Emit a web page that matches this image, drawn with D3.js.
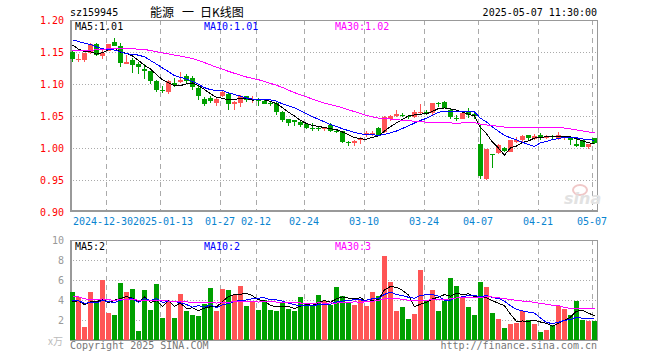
<!doctype html>
<html>
<head>
<meta charset="utf-8">
<title>能源 日K线图</title>
<script src="https://d3js.org/d3.v7.min.js"></script>
<style>
  body { margin: 0; background: #fff; }
  text { font-family: "DejaVu Sans Mono", monospace; font-size: 10px; }
</style>
</head>
<body>
<div id="chart"></div>
<script>

// data

const dates = [
  "2024-12-20","2024-12-23","2024-12-24","2024-12-25","2024-12-26","2024-12-27","2024-12-30","2024-12-31",
  "2025-01-02","2025-01-03","2025-01-06","2025-01-07","2025-01-08","2025-01-09","2025-01-10","2025-01-13",
  "2025-01-14","2025-01-15","2025-01-16","2025-01-17","2025-01-20","2025-01-21","2025-01-22","2025-01-23",
  "2025-01-24","2025-01-27","2025-02-05","2025-02-06","2025-02-07","2025-02-10","2025-02-11","2025-02-12",
  "2025-02-13","2025-02-14","2025-02-17","2025-02-18","2025-02-19","2025-02-20","2025-02-21","2025-02-24",
  "2025-02-25","2025-02-26","2025-02-27","2025-02-28","2025-03-03","2025-03-04","2025-03-05","2025-03-06",
  "2025-03-07","2025-03-10","2025-03-11","2025-03-12","2025-03-13","2025-03-14","2025-03-17","2025-03-18",
  "2025-03-19","2025-03-20","2025-03-21","2025-03-24","2025-03-25","2025-03-26","2025-03-27","2025-03-28",
  "2025-03-31","2025-04-01","2025-04-02","2025-04-03","2025-04-07","2025-04-08","2025-04-09","2025-04-10",
  "2025-04-11","2025-04-14","2025-04-15","2025-04-16","2025-04-17","2025-04-18","2025-04-21","2025-04-22",
  "2025-04-23","2025-04-24","2025-04-25","2025-04-28","2025-04-29","2025-04-30","2025-05-06","2025-05-07"
];

const open = [
  1.150,1.138,1.138,1.149,1.163,1.143,1.152,1.165,1.159,1.132,1.137,1.131,1.124,1.120,1.105,1.090,
  1.087,1.102,1.103,1.113,1.110,1.094,1.077,1.078,1.070,1.081,1.084,1.069,1.071,1.081,1.076,1.076,
  1.074,1.071,1.070,1.057,1.045,1.044,1.041,1.038,1.032,1.032,1.031,1.036,1.027,1.026,1.010,1.008,
  1.012,1.021,1.022,1.032,1.025,1.045,1.050,1.052,1.050,1.048,1.055,1.056,1.054,1.071,1.072,1.060,
  1.047,1.046,1.058,1.053,1.007,0.951,0.991,0.992,1.000,0.994,1.009,1.012,1.020,1.014,1.020,1.016,
  1.019,1.014,1.016,1.017,1.007,1.012,1.001,1.015
];
const high = [
  1.151,1.147,1.149,1.164,1.164,1.155,1.163,1.172,1.164,1.145,1.140,1.134,1.131,1.121,1.106,1.097,
  1.106,1.110,1.118,1.115,1.112,1.097,1.080,1.082,1.080,1.089,1.086,1.073,1.083,1.082,1.081,1.078,
  1.076,1.073,1.072,1.058,1.046,1.044,1.042,1.039,1.039,1.033,1.033,1.039,1.030,1.027,1.011,1.012,
  1.017,1.026,1.026,1.033,1.050,1.051,1.059,1.055,1.052,1.060,1.068,1.060,1.071,1.072,1.073,1.062,
  1.051,1.056,1.062,1.054,1.037,0.999,0.991,1.007,1.001,1.013,1.017,1.021,1.021,1.022,1.023,1.020,
  1.021,1.025,1.019,1.018,1.016,1.013,1.007,1.016
];
const low = [
  1.135,1.135,1.134,1.147,1.143,1.139,1.151,1.159,1.126,1.131,1.117,1.116,1.108,1.100,1.087,1.086,
  1.085,1.096,1.101,1.100,1.090,1.075,1.065,1.070,1.065,1.080,1.060,1.060,1.064,1.072,1.071,1.066,
  1.068,1.065,1.052,1.041,1.034,1.034,1.033,1.030,1.027,1.027,1.026,1.025,1.024,1.008,1.003,1.003,
  1.006,1.017,1.019,1.018,1.024,1.042,1.049,1.048,1.045,1.047,1.052,1.051,1.052,1.064,1.062,1.045,
  1.042,1.045,1.047,1.046,0.952,0.950,0.968,0.990,0.993,0.993,1.008,1.010,1.013,1.012,1.013,1.014,
  1.014,1.013,1.013,1.004,1.001,1.001,0.998,1.006
];
const close = [
  1.139,1.139,1.148,1.162,1.146,1.149,1.162,1.160,1.133,1.134,1.130,1.127,1.121,1.105,1.090,1.089,
  1.104,1.098,1.106,1.105,1.095,1.082,1.069,1.073,1.077,1.088,1.069,1.072,1.081,1.075,1.077,1.074,
  1.069,1.070,1.057,1.044,1.039,1.040,1.036,1.032,1.029,1.031,1.032,1.026,1.026,1.010,1.009,1.011,
  1.015,1.024,1.024,1.020,1.049,1.050,1.053,1.051,1.048,1.057,1.056,1.055,1.070,1.070,1.062,1.048,
  1.046,1.055,1.052,1.050,0.956,0.998,0.990,1.005,0.996,1.012,1.012,1.019,1.016,1.019,1.016,1.018,
  1.018,1.020,1.018,1.012,1.003,1.002,1.006,1.008
];
// closes before the first bar, estimated from where the MA lines start
const priorClose = [
  1.135,1.140,1.138,1.132,1.128,1.130,1.136,1.142,1.145,1.140,1.138,1.142,1.148,1.150,1.146,
  1.150,1.155,1.152,1.158,1.155,1.165,1.175,1.182,1.185,1.178,1.172,1.168,1.163,1.163
];

// volume, in 万
const volume = [
  4.83,4.33,1.33,4.8,3.83,6.0,2.73,2.5,5.73,4.8,5.1,0.9,5.0,3.0,5.6,2.23,3.83,2.23,4.6,2.9,
  2.5,2.4,3.6,5.2,2.9,5.1,5.0,4.5,5.4,3.4,3.8,3.0,4.0,3.0,2.9,3.8,3.1,2.9,4.3,3.6,
  3.4,4.5,3.9,3.5,5.3,4.4,3.83,3.5,4.1,3.4,4.8,4.4,8.4,5.8,2.9,3.3,2.1,2.6,7.0,3.9,
  5.0,2.9,3.9,6.2,5.4,4.3,3.3,2.5,5.8,5.3,2.7,2.1,1.2,1.6,1.7,2.9,2.0,1.6,0.8,1.0,
  1.5,3.4,3.1,2.5,3.9,2.0,1.9,1.9
];
const priorVolume = [
  7.2,6.8,7.0,4.5,3.8,5.2,4.0,3.6,4.8,4.2,3.9,5.0,4.4,3.7,4.1,4.6,3.9,4.3,4.0,4.0,
  4.2,3.6,4.5,3.8,3.75,3.9,3.2,3.5,3.72
];

const tickIdx = [6, 15, 25, 31, 39, 49, 59, 68, 78, 87];
const tickLabels = ["2024-12-30","2025-01-13","01-27","02-12","02-24","03-10","03-24","04-07","04-21","05-07"];
const priceTicks = [0.90, 0.95, 1.00, 1.05, 1.10, 1.15, 1.20];
const volTicks = [2, 4, 6, 8, 10];

// setup

const W = 660, H = 360;
const left = 70, right = 598;
const upColor = "#ff5555", downColor = "#00a000";
const maColors = {5: "#000", 10: "#0000ff", 30: "#ff00ff"};

const svg = d3.select("#chart").append("svg")
    .attr("width", W).attr("height", H)
    .attr("shape-rendering", "crispEdges");

const x = d3.scaleBand().domain(d3.range(dates.length))
    .range([left, right]).paddingInner(1/6).paddingOuter(1/12).align(0);
const y = d3.scaleLinear().domain([0.90, 1.20]).range([212, 20]);
const vy = d3.scaleLinear().domain([0, 10]).range([340, 240]);

function movingAvg(prior, vals, n) {
    const all = prior.concat(vals);
    return vals.map(function(v, i) {
        const end = prior.length + i + 1;
        return d3.mean(all.slice(end - n, end));
    });
}

const cx = function(i) { return Math.floor(x(i)) + 2.5; };

// grids and frames
function drawPanel(yScale, levels, top, bottom) {
    const g = svg.append("g");
    g.selectAll(".h").data(levels).enter().append("line")
        .attr("x1", left).attr("x2", right)
        .attr("y1", d => Math.round(yScale(d)) + 0.5).attr("y2", d => Math.round(yScale(d)) + 0.5)
        .attr("stroke", "#aaa").attr("stroke-dasharray", "1,2");
    g.selectAll(".v").data(tickIdx).enter().append("line")
        .attr("x1", d => x(d) + 0.5).attr("x2", d => x(d) + 0.5)
        .attr("y1", top).attr("y2", bottom)
        .attr("stroke", "#aaa").attr("stroke-dasharray", "5,4");
    g.append("rect").attr("x", left + 0.5).attr("y", top + 0.5)
        .attr("width", right - left - 1).attr("height", bottom - top - 1)
        .attr("fill", "none").attr("stroke", "#999");
    g.append("line").attr("x1", left + 1).attr("x2", left + 1).attr("y1", top).attr("y2", bottom + 1)
        .attr("stroke", "#999").attr("stroke-width", 2);
    g.append("line").attr("x1", left).attr("x2", right).attr("y1", bottom).attr("y2", bottom)
        .attr("stroke", "#999").attr("stroke-width", 2);
}
drawPanel(y, [0.95, 1.00, 1.05, 1.10, 1.15], 20, 211);
drawPanel(vy, [2, 4, 6, 8], 240, 340);

// candles
const candles = svg.append("g").selectAll("g").data(dates).enter().append("g");
candles.append("line")
    .attr("x1", (d, i) => cx(i)).attr("x2", (d, i) => cx(i))
    .attr("y1", (d, i) => y(high[i])).attr("y2", (d, i) => y(low[i]))
    .attr("stroke", (d, i) => close[i] >= open[i] ? upColor : downColor);
candles.append("rect")
    .attr("x", (d, i) => x(i)).attr("width", x.bandwidth())
    .attr("y", (d, i) => y(Math.max(open[i], close[i])))
    .attr("height", (d, i) => Math.max(1, Math.abs(y(open[i]) - y(close[i]))))
    .attr("fill", (d, i) => close[i] >= open[i] ? upColor : downColor);

// volume bars
svg.append("g").selectAll("rect").data(volume).enter().append("rect")
    .attr("x", (d, i) => x(i)).attr("width", x.bandwidth())
    .attr("y", d => vy(d)).attr("height", d => vy(0) - vy(d))
    .attr("fill", (d, i) => close[i] >= open[i] ? upColor : downColor);

// moving averages
const priceMA = {}, volMA = {};
[5, 10, 30].forEach(function(n) {
    priceMA[n] = movingAvg(priorClose, close, n);
    volMA[n] = movingAvg(priorVolume, volume, n);
    svg.append("path").datum(priceMA[n])
        .attr("d", d3.line().x((d, i) => cx(i)).y(d => y(d)))
        .attr("fill", "none").attr("stroke", maColors[n]);
    svg.append("path").datum(volMA[n])
        .attr("d", d3.line().x((d, i) => cx(i)).y(d => vy(d)))
        .attr("fill", "none").attr("stroke", maColors[n]);
});

// axes
const yAxis = svg.append("g").attr("transform", "translate(64,0)")
    .call(d3.axisLeft(y).tickValues(priceTicks).tickSize(0).tickPadding(0).tickFormat(d3.format(".2f")));
yAxis.select(".domain").remove();
yAxis.selectAll("text").attr("fill", "#f00").style("font-size", "10px").attr("font-family", "DejaVu Sans Mono");

const vAxis = svg.append("g").attr("transform", "translate(64,0)")
    .call(d3.axisLeft(vy).tickValues(volTicks).tickSize(0).tickPadding(0));
vAxis.select(".domain").remove();
vAxis.selectAll("text").attr("fill", "#999").style("font-size", "10px").attr("font-family", "DejaVu Sans Mono");

// the first two date labels sit very close; nudge them apart a little
const labelShift = [-3, 3, 0, 0, 0, 0, 0, 0, 0, 0];
svg.append("g").selectAll("text").data(tickIdx).enter().append("text")
    .attr("x", (d, i) => x(d) + labelShift[i]).attr("y", 225)
    .attr("text-anchor", "middle").attr("fill", "#0a84d0")
    .text((d, i) => tickLabels[i]);

// legends
const last = dates.length - 1;
const legendX = {5: 75, 10: 204, 30: 335};
[5, 10, 30].forEach(function(n) {
    svg.append("text").attr("x", legendX[n]).attr("y", 29.5).attr("fill", maColors[n])
        .text("MA" + n + ":" + priceMA[n][last].toFixed(2));
    svg.append("text").attr("x", legendX[n]).attr("y", 250).attr("fill", maColors[n])
        .text("MA" + n + ":" + Math.round(volMA[n][last]));
});

// titles
svg.append("text").attr("x", 70).attr("y", 16).attr("fill", "#000").text("sz159945");
const title = svg.append("text").attr("y", 17).style("font-family", "'Noto Sans CJK SC'").style("font-size", "12px");
title.append("tspan").attr("x", 150).text("能源");
title.append("tspan").attr("x", 182).text("一");
title.append("tspan").attr("x", 200).text("日K线图");
svg.append("text").attr("x", 597).attr("y", 16).attr("text-anchor", "end").attr("fill", "#000")
    .text("2025-05-07 11:30:00");

svg.append("text").attr("x", 63).attr("y", 345).attr("text-anchor", "end").attr("fill", "#bbb")
    .style("font-family", "'Noto Sans CJK SC'").text("x万");
svg.append("text").attr("x", 70).attr("y", 349).attr("fill", "#777").text("Copyright 2025 SINA.COM");
svg.append("text").attr("x", 597).attr("y", 349).attr("text-anchor", "end").attr("fill", "#777")
    .text("http://finance.sina.com.cn");

// sina watermark
svg.append("ellipse").attr("cx", 580).attr("cy", 190).attr("rx", 7).attr("ry", 5)
    .attr("fill", "none").attr("stroke", "#f0c8c8").attr("stroke-width", 2).attr("shape-rendering", "auto");
svg.append("text").attr("x", 564).attr("y", 204)
    .style("font-family", "'DejaVu Sans'").style("font-size", "16px").style("font-style", "italic").style("font-weight", "bold")
    .attr("fill", "#e2e2e2").text("sina");

</script>
</body>
</html>
